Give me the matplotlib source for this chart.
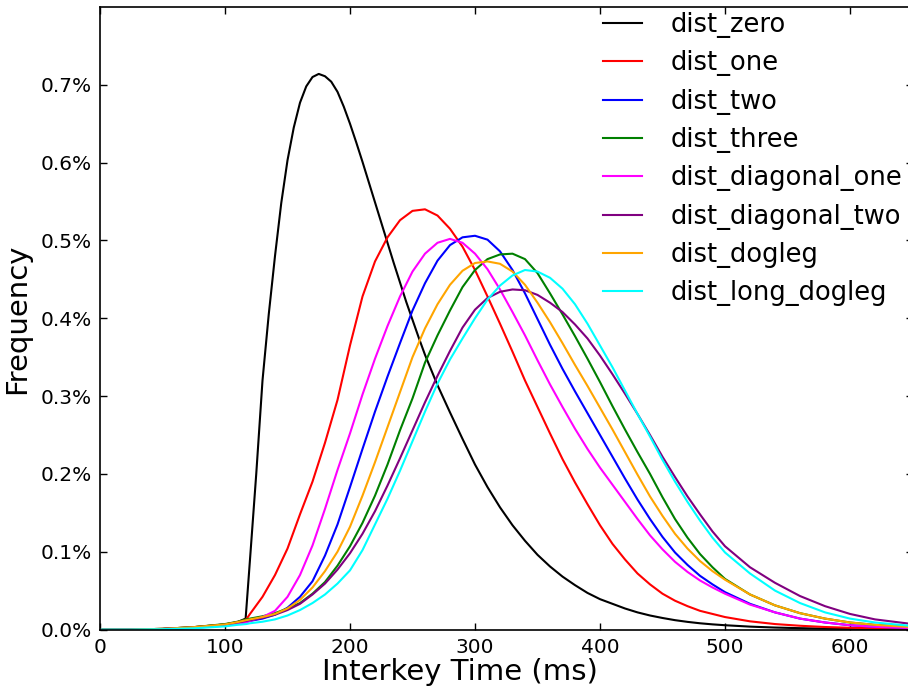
import numpy as np
import matplotlib
matplotlib.use("Agg")
import matplotlib.pyplot as plt
from matplotlib.ticker import FuncFormatter

# Interkey time samples (ms) shared by the keyboard-distance curves
time_ms = [0, 25, 50, 75, 100, 110, 117,
           120, 130, 140, 150, 160, 170, 180, 190, 200,
           210, 220, 230, 240, 250, 260, 270, 280, 290, 300,
           310, 320, 330, 340, 350, 360, 370, 380, 390, 400,
           410, 420, 430, 440, 450, 460, 470, 480, 490, 500,
           520, 540, 560, 580, 600, 620, 650]

# dist_zero has a sharper peak, so it is sampled more finely there
time_ms_zero = [0, 25, 50, 75, 100, 110, 116.5,
                120, 125, 130, 135, 140, 145, 150, 155, 160, 165, 170, 175,
                180, 185, 190, 195, 200, 205, 210, 215, 220, 225, 230, 235,
                240, 245, 250, 255, 260, 270, 280, 290, 300,
                310, 320, 330, 340, 350, 360, 370, 380, 390, 400,
                410, 420, 430, 440, 450, 460, 470, 480, 490, 500,
                520, 540, 560, 580, 600, 620, 650]

# Frequencies in percent
dist_zero = [0, 0, 0.0008, 0.003, 0.0065, 0.0095, 0.014,
             0.09, 0.20, 0.32, 0.405, 0.48, 0.548, 0.603, 0.645, 0.677, 0.698, 0.710, 0.714,
             0.711, 0.704, 0.691, 0.672, 0.650, 0.626, 0.601, 0.575, 0.549, 0.523, 0.497, 0.471,
             0.446, 0.421, 0.398, 0.375, 0.353, 0.314, 0.279, 0.245, 0.212,
             0.183, 0.157, 0.134, 0.114, 0.096, 0.081, 0.068, 0.057, 0.047, 0.039,
             0.033, 0.027, 0.022, 0.018, 0.0148, 0.012, 0.0098, 0.008, 0.0066, 0.0055,
             0.0037, 0.0025, 0.0017, 0.0011, 0.0007, 0.0005, 0.0003]

dist_one = [0, 0, 0.0008, 0.003, 0.0065, 0.0095, 0.013,
            0.020, 0.042, 0.070, 0.104, 0.148, 0.190, 0.240, 0.295, 0.365,
            0.428, 0.473, 0.504, 0.526, 0.538, 0.540, 0.532, 0.515, 0.492, 0.462,
            0.428, 0.393, 0.357, 0.320, 0.286, 0.252, 0.219, 0.189, 0.161, 0.134,
            0.110, 0.090, 0.072, 0.058, 0.046, 0.037, 0.030, 0.024, 0.020, 0.016,
            0.0105, 0.007, 0.0048, 0.0032, 0.0022, 0.0015, 0.0008]

dist_two = [0, 0, 0.0006, 0.0025, 0.0055, 0.008, 0.010,
            0.011, 0.014, 0.019, 0.028, 0.042, 0.062, 0.095, 0.135, 0.183,
            0.232, 0.280, 0.325, 0.368, 0.410, 0.445, 0.474, 0.494, 0.504, 0.506,
            0.501, 0.486, 0.462, 0.432, 0.399, 0.366, 0.335, 0.306, 0.278, 0.250,
            0.222, 0.194, 0.167, 0.142, 0.119, 0.099, 0.083, 0.069, 0.058, 0.048,
            0.033, 0.022, 0.014, 0.009, 0.0055, 0.0035, 0.0018]

dist_three = [0, 0, 0.0008, 0.003, 0.007, 0.010, 0.013,
              0.014, 0.017, 0.021, 0.027, 0.034, 0.046, 0.061, 0.082, 0.107,
              0.137, 0.172, 0.212, 0.256, 0.297, 0.343, 0.378, 0.410, 0.440, 0.462,
              0.476, 0.482, 0.483, 0.476, 0.458, 0.432, 0.405, 0.377, 0.348, 0.318,
              0.287, 0.257, 0.228, 0.200, 0.170, 0.142, 0.118, 0.097, 0.080, 0.065,
              0.045, 0.031, 0.021, 0.014, 0.009, 0.006, 0.003]

dist_diagonal_one = [0, 0, 0.0005, 0.002, 0.005, 0.007, 0.009,
                     0.011, 0.016, 0.024, 0.042, 0.070, 0.108, 0.155, 0.205, 0.252,
                     0.302, 0.348, 0.390, 0.428, 0.460, 0.483, 0.497, 0.502, 0.497, 0.483,
                     0.463, 0.437, 0.408, 0.378, 0.346, 0.315, 0.286, 0.258, 0.232, 0.208,
                     0.186, 0.164, 0.142, 0.121, 0.103, 0.087, 0.074, 0.063, 0.054, 0.046,
                     0.032, 0.022, 0.014, 0.009, 0.0055, 0.0035, 0.0018]

dist_diagonal_two = [0, 0, 0.0006, 0.0025, 0.006, 0.009, 0.011,
                     0.012, 0.015, 0.019, 0.025, 0.033, 0.045, 0.059, 0.077, 0.098,
                     0.123, 0.152, 0.185, 0.220, 0.256, 0.292, 0.326, 0.358, 0.388, 0.411,
                     0.426, 0.434, 0.437, 0.436, 0.430, 0.420, 0.408, 0.392, 0.374, 0.352,
                     0.328, 0.303, 0.277, 0.250, 0.222, 0.196, 0.171, 0.148, 0.126, 0.107,
                     0.080, 0.060, 0.043, 0.030, 0.020, 0.013, 0.007]

dist_dogleg = [0, 0, 0.0008, 0.003, 0.0065, 0.0095, 0.012,
               0.013, 0.016, 0.020, 0.027, 0.038, 0.054, 0.075, 0.100, 0.132,
               0.172, 0.215, 0.260, 0.305, 0.350, 0.387, 0.418, 0.443, 0.461, 0.471,
               0.473, 0.470, 0.460, 0.443, 0.420, 0.395, 0.368, 0.340, 0.313, 0.285,
               0.257, 0.228, 0.199, 0.171, 0.146, 0.123, 0.104, 0.088, 0.075, 0.064,
               0.045, 0.031, 0.021, 0.014, 0.009, 0.006, 0.003]

dist_long_dogleg = [0, 0, 0.0004, 0.0015, 0.004, 0.006, 0.007,
                    0.008, 0.010, 0.013, 0.018, 0.025, 0.034, 0.045, 0.059, 0.076,
                    0.102, 0.135, 0.168, 0.204, 0.242, 0.280, 0.316, 0.347, 0.374, 0.400,
                    0.424, 0.442, 0.455, 0.462, 0.460, 0.452, 0.438, 0.418, 0.393, 0.365,
                    0.337, 0.307, 0.277, 0.248, 0.218, 0.190, 0.164, 0.140, 0.118, 0.099,
                    0.072, 0.050, 0.034, 0.022, 0.014, 0.009, 0.0045]

series = [
    ("dist_zero", time_ms_zero, dist_zero, "black"),
    ("dist_one", time_ms, dist_one, "red"),
    ("dist_two", time_ms, dist_two, "blue"),
    ("dist_three", time_ms, dist_three, "green"),
    ("dist_diagonal_one", time_ms, dist_diagonal_one, "magenta"),
    ("dist_diagonal_two", time_ms, dist_diagonal_two, "purple"),
    ("dist_dogleg", time_ms, dist_dogleg, "orange"),
    ("dist_long_dogleg", time_ms, dist_long_dogleg, "cyan"),
]

plt.rcParams["font.family"] = "DejaVu Sans"

fig = plt.figure(figsize=(9.08, 6.91), dpi=100, facecolor="white")
ax = fig.add_axes([100 / 908, 61.5 / 691, 812.5 / 908, 622.5 / 691])

for name, xs, ys, color in series:
    ax.plot(xs, ys, color=color, lw=1.5, label=name,
            solid_joinstyle="round")

ax.set_xlim(0, 650)
ax.set_ylim(0, 0.8)
ax.set_xticks(np.arange(0, 601, 100))
ax.set_yticks(np.arange(0, 0.71, 0.1))
ax.yaxis.set_major_formatter(FuncFormatter(lambda v, _: f"{v:.1f}%"))

ax.tick_params(direction="in", top=True, right=True, length=5, width=1,
               labelsize=14.5, pad=6)
for sp in ax.spines.values():
    sp.set_linewidth(1.2)
    sp.set_color("black")

ax.set_xlabel("Interkey Time (ms)", fontsize=21)
ax.xaxis.set_label_coords(0.4425, -0.046)
ax.set_ylabel("Frequency", fontsize=21)
ax.yaxis.set_label_coords(-0.085, 0.5)

ax.legend(loc="upper left", bbox_to_anchor=(603 / 908, 1 - 12 / 691),
          bbox_transform=fig.transFigure, frameon=False, fontsize=18.5,
          handlelength=1.5, handletextpad=1.15, labelspacing=0.48,
          borderpad=0, borderaxespad=0)

fig.savefig("out.png", dpi=100, facecolor="white")
